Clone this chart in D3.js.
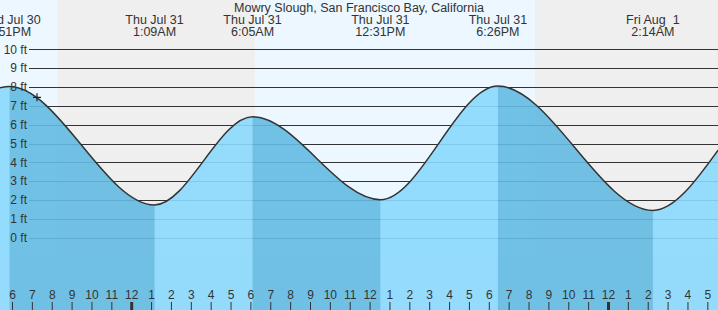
<!DOCTYPE html>
<html>
<head>
<meta charset="utf-8">
<script src="https://cdn.jsdelivr.net/npm/d3@7"></script>
<style>
  body { margin: 0; background: #fff; }
  svg { display: block; font-family: "Liberation Sans", Arial, sans-serif; }
</style>
</head>
<body>
<svg id="chart"></svg>
<script>
const title = 'Mowry Slough, San Francisco Bay, California';

// tide extremes (plus the two edge points)
const tideTimes = ['2025-07-30 17:22', '2025-07-30 17:51', '2025-07-31 01:09', '2025-07-31 06:05',
                   '2025-07-31 12:31', '2025-07-31 18:26', '2025-08-01 02:14', '2025-08-01 05:31'];
const tideHeights = [7.96, 8.02, 1.74, 6.42, 2.02, 8.05, 1.45, 4.65];

const eventDates = ['Wed Jul 30', 'Thu Jul 31', 'Thu Jul 31', 'Thu Jul 31', 'Thu Jul 31', 'Fri Aug  1'];
const eventTimes = ['5:51PM', '1:09AM', '6:05AM', '12:31PM', '6:26PM', '2:14AM'];
const eventAt = ['2025-07-30 17:51', '2025-07-31 01:09', '2025-07-31 06:05',
                 '2025-07-31 12:31', '2025-07-31 18:26', '2025-08-01 02:14'];

// ebb periods (high -> low) get the darker water
const ebbStart = ['2025-07-30 17:51', '2025-07-31 06:05', '2025-07-31 18:26'];
const ebbEnd = ['2025-07-31 01:09', '2025-07-31 12:31', '2025-08-01 02:14'];

// night shading
const nightStart = ['2025-07-30 20:17', '2025-07-31 20:18'];
const nightEnd = ['2025-07-31 06:12', '2025-08-01 06:12'];

const feet = [0, 1, 2, 3, 4, 5, 6, 7, 8, 9, 10];

const nowTime = '2025-07-30 19:14';
const nowHeight = 7.45;

const width = 718;
const height = 310;

const parse = d3.timeParse('%Y-%m-%d %H:%M');
const data = tideTimes.map((t, i) => ({ t: parse(t), h: tideHeights[i] }));

const svg = d3.select('#chart').attr('width', width).attr('height', height);

const x = d3.scaleTime()
  .domain([parse('2025-07-30 18:00'), parse('2025-08-01 00:00')])
  .range([12.5, 608.5]);

const y = d3.scaleLinear()
  .domain([0, 10])
  .range([237.7, 49.3]);

// day background, then night bands
svg.append('rect')
  .attr('width', width).attr('height', height)
  .attr('fill', '#ecf7ff');

svg.selectAll('.night')
  .data(nightStart)
  .enter()
  .append('rect')
  .attr('class', 'night')
  .attr('x', d => x(parse(d)))
  .attr('y', 0)
  .attr('width', (d, i) => Math.min(width, x(parse(nightEnd[i]))) - x(parse(d)))
  .attr('height', height)
  .attr('fill', '#efefef');

// grid lines
svg.selectAll('.grid')
  .data(feet)
  .enter()
  .append('line')
  .attr('class', 'grid')
  .attr('x1', 29).attr('x2', width)
  .attr('y1', d => Math.round(y(d)) + 0.5)
  .attr('y2', d => Math.round(y(d)) + 0.5)
  .attr('stroke', '#333')
  .attr('stroke-width', 1);

// water
const area = d3.area()
  .x(d => x(d.t))
  .y0(height)
  .y1(d => y(d.h))
  .curve(d3.curveMonotoneX);

const line = d3.line()
  .x(d => x(d.t))
  .y(d => y(d.h))
  .curve(d3.curveMonotoneX);

svg.append('clipPath')
  .attr('id', 'water')
  .append('path')
  .attr('d', area(data));

const water = svg.append('g').attr('clip-path', 'url(#water)').attr('opacity', 0.9);

water.append('rect')
  .attr('width', width).attr('height', height)
  .attr('fill', '#8bd9fd');

water.selectAll('.ebb')
  .data(ebbStart)
  .enter()
  .append('rect')
  .attr('class', 'ebb')
  .attr('x', d => x(parse(d)))
  .attr('y', 0)
  .attr('width', (d, i) => x(parse(ebbEnd[i])) - x(parse(d)))
  .attr('height', height)
  .attr('fill', '#63bbe3');

svg.append('path')
  .attr('d', line(data))
  .attr('fill', 'none')
  .attr('stroke', '#333')
  .attr('stroke-width', 1.5);

// current time marker
const nx = x(parse(nowTime));
const ny = y(nowHeight);
svg.append('path')
  .attr('d', `M${nx - 4},${ny}H${nx + 4}M${nx},${ny - 4}V${ny + 4}`)
  .attr('stroke', '#222')
  .attr('stroke-width', 1.2);

// y labels
svg.selectAll('.ylab')
  .data(feet)
  .enter()
  .append('text')
  .attr('class', 'ylab')
  .attr('x', 27)
  .attr('y', d => y(d))
  .attr('dy', '0.35em')
  .attr('text-anchor', 'end')
  .attr('font-size', 12)
  .attr('fill', '#333')
  .text(d => `${d} ft`);

// hour ticks along the bottom
const hours = d3.timeHour.range(parse('2025-07-30 18:00'), parse('2025-08-01 06:00'));

svg.selectAll('.tick')
  .data(hours)
  .enter()
  .append('line')
  .attr('class', 'tick')
  .attr('x1', d => x(d)).attr('x2', d => x(d))
  .attr('y1', 302).attr('y2', height)
  .attr('stroke', '#333')
  .attr('stroke-width', d => d.getHours() === 0 ? 3 : 1);

svg.selectAll('.hlab')
  .data(hours)
  .enter()
  .append('text')
  .attr('class', 'hlab')
  .attr('x', d => x(d))
  .attr('y', 299)
  .attr('text-anchor', 'middle')
  .attr('font-size', 12)
  .attr('fill', '#333')
  .text(d3.timeFormat('%-I'));

// title and tide event labels
svg.append('text')
  .attr('x', 359)
  .attr('y', 11.5)
  .attr('text-anchor', 'middle')
  .attr('font-size', 12.5)
  .attr('fill', '#333')
  .text(title);

const events = svg.selectAll('.event')
  .data(eventAt)
  .enter()
  .append('text')
  .attr('class', 'event')
  .attr('text-anchor', 'middle')
  .attr('font-size', 12.5)
  .attr('fill', '#333')
  .style('white-space', 'pre');

events.append('tspan')
  .attr('x', d => x(parse(d)))
  .attr('y', 24)
  .text((d, i) => eventDates[i]);

events.append('tspan')
  .attr('x', d => x(parse(d)))
  .attr('y', 36)
  .text((d, i) => eventTimes[i]);
</script>
</body>
</html>
